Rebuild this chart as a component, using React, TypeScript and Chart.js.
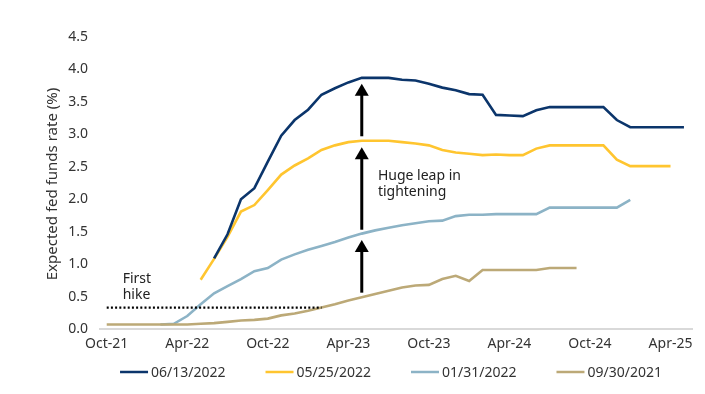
import React, { useEffect, useRef } from "react";
import { Chart, registerables } from "chart.js";

Chart.register(...registerables);

// Month categories (index 0 = Oct-21)
const months = [
  "Oct-21", "Nov-21", "Dec-21", "Jan-22", "Feb-22", "Mar-22", "Apr-22", "May-22", "Jun-22", "Jul-22", "Aug-22", "Sep-22",
  "Oct-22", "Nov-22", "Dec-22", "Jan-23", "Feb-23", "Mar-23", "Apr-23", "May-23", "Jun-23", "Jul-23", "Aug-23", "Sep-23",
  "Oct-23", "Nov-23", "Dec-23", "Jan-24", "Feb-24", "Mar-24", "Apr-24", "May-24", "Jun-24", "Jul-24", "Aug-24", "Sep-24",
  "Oct-24", "Nov-24", "Dec-24", "Jan-25", "Feb-25", "Mar-25", "Apr-25", "May-25",
];

const tickLabels = ["Oct-21", "Apr-22", "Oct-22", "Apr-23", "Oct-23", "Apr-24", "Oct-24", "Apr-25"];
const yTicks = [0, 0.5, 1, 1.5, 2, 2.5, 3, 3.5, 4, 4.5];

// Series (first month label, then monthly values)
const s20220613Start = "Jun-22";
const s20220613 = [
  1.09, 1.46, 2.0, 2.17, 2.58, 2.98, 3.22, 3.38, 3.61, 3.71, 3.8, 3.87, 3.87, 3.87, 3.84, 3.83,
  3.78, 3.72, 3.68, 3.62, 3.61, 3.3, 3.29, 3.28, 3.37, 3.42, 3.42, 3.42, 3.42, 3.42, 3.22, 3.11,
  3.11, 3.11, 3.11, 3.11,
];

const s20220525Start = "May-22";
const s20220525 = [
  0.76, 1.08, 1.42, 1.81, 1.91, 2.14, 2.38, 2.52, 2.63, 2.76, 2.83, 2.88, 2.9, 2.9, 2.9, 2.88,
  2.86, 2.83, 2.76, 2.72, 2.7, 2.68, 2.69, 2.68, 2.68, 2.78, 2.83, 2.83, 2.83, 2.83, 2.83, 2.61,
  2.51, 2.51, 2.51, 2.51,
];

const s20220131Start = "Feb-22";
const s20220131 = [
  0.07, 0.08, 0.2, 0.38, 0.55, 0.66, 0.77, 0.89, 0.94, 1.07, 1.15, 1.22, 1.28, 1.34, 1.41, 1.47,
  1.52, 1.56, 1.6, 1.63, 1.66, 1.67, 1.74, 1.76, 1.76, 1.77, 1.77, 1.77, 1.77, 1.87, 1.87, 1.87,
  1.87, 1.87, 1.87, 1.99,
];

const s20210930Start = "Oct-21";
const s20210930 = [
  0.07, 0.07, 0.07, 0.07, 0.07, 0.07, 0.07, 0.08, 0.09, 0.11, 0.13, 0.14, 0.16, 0.21, 0.24, 0.28,
  0.33, 0.38, 0.44, 0.49, 0.54, 0.59, 0.64, 0.67, 0.68, 0.77, 0.82, 0.74, 0.91, 0.91, 0.91, 0.91,
  0.91, 0.94, 0.94, 0.94,
];

const seriesNames = ["06/13/2022", "05/25/2022", "01/31/2022", "09/30/2021"];
const seriesColors = ["#0b356b", "#ffc52f", "#8cb3c6", "#bca977"];

// "First hike" reference level
const firstHikeLevel = 0.33;
const firstHikeFrom = "Oct-21";
const firstHikeTo = "Feb-23";

// Arrows at May-23: [from, to]
const arrowMonth = "May-23";
const arrowRanges = [
  [2.97, 3.78],
  [1.53, 2.8],
  [0.56, 1.37],
];

const annotations = [
  { month: 20.2, value: 2.29, lines: ["Huge leap in", "tightening"] },
  { month: 1.19, value: 0.71, lines: ["First", "hike"] },
];

const FONT = '"Noto Sans", sans-serif';

function toPoints(start: string, values: number[]) {
  const s = months.indexOf(start);
  return values.map((v, i) => ({ x: s + i, y: v }));
}

const overlayPlugin = {
  id: "overlay",
  afterDatasetsDraw(chart: any) {
    const { ctx, scales } = chart;
    const xs = scales.x;
    const ys = scales.y;
    ctx.save();
    // arrows
    const ax = xs.getPixelForValue(months.indexOf(arrowMonth));
    ctx.fillStyle = "#000";
    ctx.strokeStyle = "#000";
    ctx.lineWidth = 3;
    arrowRanges.forEach(([from, to]) => {
      const y0 = ys.getPixelForValue(from);
      const y1 = ys.getPixelForValue(to);
      const headLen = 12;
      const headHalf = 7;
      ctx.beginPath();
      ctx.moveTo(ax, y0);
      ctx.lineTo(ax, y1 + headLen - 1);
      ctx.stroke();
      ctx.beginPath();
      ctx.moveTo(ax, y1);
      ctx.lineTo(ax - headHalf, y1 + headLen);
      ctx.lineTo(ax + headHalf, y1 + headLen);
      ctx.closePath();
      ctx.fill();
    });
    // annotations
    ctx.font = `14px ${FONT}`;
    ctx.fillStyle = "#222";
    ctx.textAlign = "left";
    ctx.textBaseline = "alphabetic";
    annotations.forEach((a) => {
      const x = xs.getPixelForValue(a.month);
      const y = ys.getPixelForValue(a.value);
      a.lines.forEach((line, i) => {
        ctx.fillText(line, x, y + i * 15.8);
      });
    });
    ctx.restore();
  },
  afterDraw(chart: any) {
    const { ctx, chartArea } = chart;
    ctx.save();
    // y axis title
    ctx.font = `15px ${FONT}`;
    ctx.fillStyle = "#333";
    ctx.textAlign = "center";
    ctx.textBaseline = "middle";
    ctx.translate(53, (chartArea.top + chartArea.bottom) / 2 + 1);
    ctx.rotate(-Math.PI / 2);
    ctx.fillText("Expected fed funds rate (%)", 0, 0);
    ctx.restore();

    // legend
    ctx.save();
    ctx.font = `14px ${FONT}`;
    const lineLen = 28;
    const gapText = 3;
    const gapItem = 40;
    const widths = seriesNames.map((n) => lineLen + gapText + ctx.measureText(n).width);
    const total = widths.reduce((a, b) => a + b, 0) + gapItem * (seriesNames.length - 1);
    let x = 391 - total / 2;
    const y = 372;
    ctx.textBaseline = "middle";
    ctx.textAlign = "left";
    seriesNames.forEach((n, i) => {
      ctx.strokeStyle = seriesColors[i];
      ctx.lineWidth = 2.5;
      ctx.beginPath();
      ctx.moveTo(x, y);
      ctx.lineTo(x + lineLen, y);
      ctx.stroke();
      ctx.fillStyle = "#333";
      ctx.fillText(n, x + lineLen + gapText, y + 1);
      x += widths[i] + gapItem;
    });
    ctx.restore();
  },
};

export default function App() {
  const ref = useRef<HTMLCanvasElement | null>(null);
  useEffect(() => {
    if (!ref.current) return;
    const hikeFrom = months.indexOf(firstHikeFrom);
    const hikeTo = months.indexOf(firstHikeTo);
    const chart = new Chart(ref.current, {
      type: "line",
      data: {
        datasets: [
          {
            label: "First hike",
            data: [
              { x: hikeFrom, y: firstHikeLevel },
              { x: hikeTo, y: firstHikeLevel },
            ],
            borderColor: "#000",
            borderWidth: 2.2,
            borderDash: [2, 2.2],
            pointRadius: 0,
            order: 0,
          },
          {
            label: seriesNames[0],
            data: toPoints(s20220613Start, s20220613),
            borderColor: seriesColors[0],
            borderWidth: 2.6,
            pointRadius: 0,
            order: 1,
          },
          {
            label: seriesNames[1],
            data: toPoints(s20220525Start, s20220525),
            borderColor: seriesColors[1],
            borderWidth: 2.6,
            pointRadius: 0,
            order: 2,
          },
          {
            label: seriesNames[2],
            data: toPoints(s20220131Start, s20220131),
            borderColor: seriesColors[2],
            borderWidth: 2.6,
            pointRadius: 0,
            order: 4,
          },
          {
            label: seriesNames[3],
            data: toPoints(s20210930Start, s20210930),
            borderColor: seriesColors[3],
            borderWidth: 2.6,
            pointRadius: 0,
            order: 3,
          },
        ],
      },
      options: {
        animation: false,
        responsive: false,
        layout: { padding: { top: 37, right: 13, bottom: 34, left: 0 } },
        plugins: { legend: { display: false }, tooltip: { enabled: false } },
        elements: { line: { tension: 0 } },
        scales: {
          x: {
            type: "linear",
            min: -0.5,
            max: 43.6,
            grid: { display: false, drawTicks: false },
            border: { display: true, color: "#d9d9d9", width: 2 },
            ticks: {
              font: { family: FONT, size: 14 },
              color: "#333",
              padding: 7,
              maxRotation: 0,
              autoSkip: false,
              callback: (_v: any, i: number) => tickLabels[i],
            },
            afterBuildTicks: (s: any) => {
              s.ticks = tickLabels.map((l) => ({ value: months.indexOf(l) }));
            },
            afterFit: (s: any) => {
              s.height = 31;
            },
          },
          y: {
            min: 0,
            max: 4.5,
            grid: { display: false, drawTicks: false },
            border: { display: false },
            ticks: {
              font: { family: FONT, size: 14 },
              color: "#333",
              padding: 12,
              callback: (v: any) => Number(v).toFixed(1),
            },
            afterBuildTicks: (s: any) => {
              s.ticks = yTicks.map((v) => ({ value: v }));
            },
            afterFit: (s: any) => {
              s.width = 100;
            },
          },
        },
      },
      plugins: [overlayPlugin],
    });
    return () => chart.destroy();
  }, []);
  return (
    <div style={{ position: "fixed", left: 0, top: 0, width: 705, height: 394, background: "#fff" }}>
      <canvas ref={ref} width={705} height={394} style={{ display: "block" }} />
    </div>
  );
}
